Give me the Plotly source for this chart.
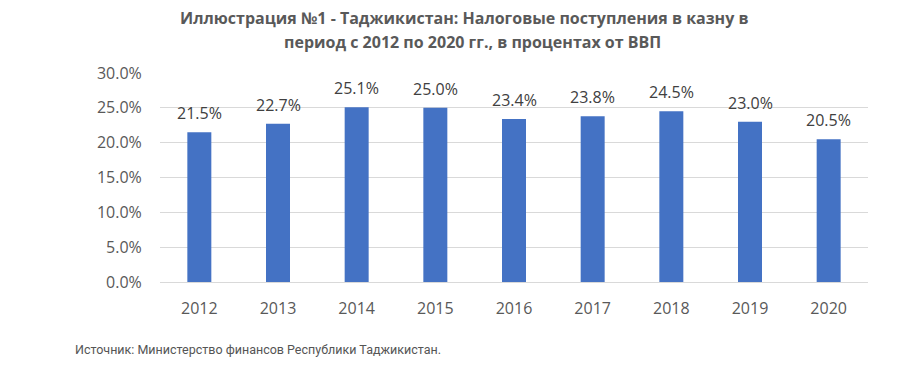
import plotly.graph_objects as go

years = ["2012", "2013", "2014", "2015", "2016", "2017", "2018", "2019", "2020"]
values = [21.5, 22.7, 25.1, 25.0, 23.4, 23.8, 24.5, 23.0, 20.5]
labels = [f"{v:.1f}%" for v in values]
tick_vals = [0, 5, 10, 15, 20, 25, 30]
tick_text = [f"{v:.1f}%" for v in tick_vals]

title_line1 = "<b>Иллюстрация №1 - Таджикистан: Налоговые поступления в казну в</b>"
title_line2 = "<b>период с 2012 по 2020 гг., в процентах от ВВП</b>"
source_text = "Источник: Министерство финансов Республики Таджикистан."

font_main = "Open Sans, sans-serif"

fig = go.Figure()
fig.add_trace(go.Bar(
    x=years, y=values,
    marker=dict(color="#4472C4", line=dict(width=0)),
    hoverinfo="x+y",
))

annotations = []
for i, (v, lab) in enumerate(zip(values, labels)):
    annotations.append(dict(x=i, y=v, xref="x", yref="y", text=lab,
                            showarrow=False, yanchor="middle", yshift=19,
                            font=dict(size=16, color="#404040", family=font_main)))

annotations += [
    dict(text=title_line1, xref="paper", yref="paper", x=0.4294, y=1.262,
         xanchor="center", yanchor="middle", showarrow=False,
         font=dict(size=16, color="#595959", family=font_main)),
    dict(text=title_line2, xref="paper", yref="paper", x=0.4407, y=1.148,
         xanchor="center", yanchor="middle", showarrow=False,
         font=dict(size=16, color="#595959", family=font_main)),
    dict(text=source_text, xref="paper", yref="paper", x=-0.1229, y=-0.3206,
         xanchor="left", yanchor="middle", showarrow=False,
         font=dict(size=12.5, color="#555555", family="Roboto, sans-serif")),
]

fig.update_layout(
    width=891, height=357,
    paper_bgcolor="white", plot_bgcolor="white",
    margin=dict(l=152, r=31, t=65, b=83, autoexpand=False),
    bargap=0.695,
    showlegend=False,
    xaxis=dict(type="category", categoryorder="array", categoryarray=years,
               range=[-0.5, len(years) - 0.5],
               showgrid=False, showline=True, linecolor="#d9d9d9", linewidth=1,
               ticks="outside", ticklen=12, tickcolor="rgba(0,0,0,0)",
               tickfont=dict(size=16, color="#595959", family=font_main)),
    yaxis=dict(range=[0, 30], tickvals=tick_vals, ticktext=tick_text,
               showgrid=True, gridcolor="#d9d9d9", gridwidth=1, zeroline=False,
               ticks="outside", ticklen=14, tickcolor="rgba(0,0,0,0)",
               tickfont=dict(size=16, color="#595959", family=font_main)),
    annotations=annotations,
)

fig.write_html("out.html")
